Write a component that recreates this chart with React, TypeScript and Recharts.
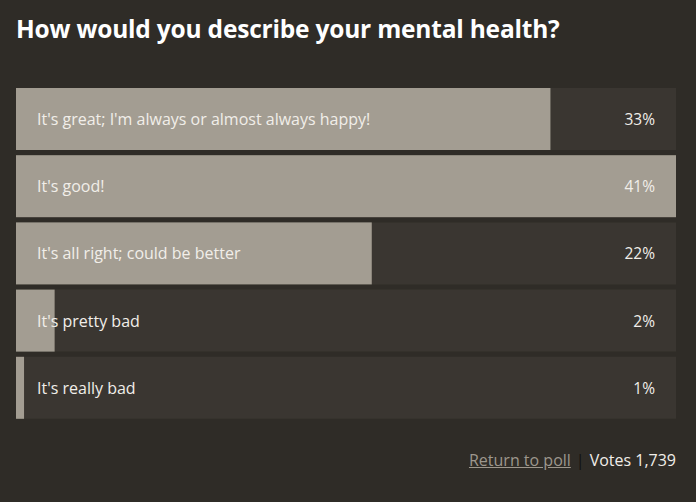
import React from "react";
import { BarChart, Bar, XAxis, YAxis } from "recharts";

const categories = [
  "It's great; I'm always or almost always happy!",
  "It's good!",
  "It's all right; could be better",
  "It's pretty bad",
  "It's really bad",
];
// bar lengths (percent of votes)
const shares = [33.2, 41, 22.1, 2.4, 0.5];
// printed percentage labels
const pctLabels = ["33%", "41%", "22%", "2%", "1%"];
const title = "How would you describe your mental health?";
const totalVotes = "1,739";

const data = categories.map((name, i) => ({
  name,
  share: shares[i],
  pct: pctLabels[i],
}));

const FONT = "'Open Sans', sans-serif";
const BG = "#2f2c27";
const TRACK = "#3a3631";
const FILL = "#a39d92";
const TEXT = "#f1eee9";

const BarShape = (props: any) => {
  const { x, y, width, height, background, payload } = props;
  const bx = background ? background.x : x;
  const bw = background ? background.width : width;
  const cy = y + height / 2;
  return (
    <g>
      <rect x={x} y={y} width={Math.max(0, width)} height={height} fill={FILL} />
      <text
        x={bx + 21}
        y={cy}
        dominantBaseline="central"
        fill={TEXT}
        fontSize={16}
        fontFamily={FONT}
      >
        {payload.name}
      </text>
      <text
        x={bx + bw - 21}
        y={cy}
        dominantBaseline="central"
        textAnchor="end"
        fill={TEXT}
        fontSize={15.5}
        fontFamily={FONT}
      >
        {payload.pct}
      </text>
    </g>
  );
};

export default function App() {
  return (
    <div
      style={{
        position: "fixed",
        left: 0,
        top: 0,
        width: 696,
        height: 502,
        background: BG,
        fontFamily: FONT,
        overflow: "hidden",
      }}
    >
      <div
        style={{
          position: "absolute",
          left: 16,
          top: 12,
          fontSize: 24.5,
          lineHeight: "34px",
          fontWeight: 700,
          color: "#ffffff",
          whiteSpace: "nowrap",
          letterSpacing: -0.2,
        }}
      >
        {title}
      </div>
      <div style={{ position: "absolute", left: 0, top: 0 }}>
        <BarChart
          width={696}
          height={502}
          data={data}
          layout="vertical"
          margin={{ top: 85, right: 20, bottom: 81, left: 16 }}
        >
          <XAxis type="number" domain={[0, 41]} hide />
          <YAxis type="category" dataKey="name" hide />
          <Bar
            dataKey="share"
            fill={FILL}
            barSize={62}
            background={{ fill: TRACK }}
            shape={BarShape}
            isAnimationActive={false}
          />
        </BarChart>
      </div>
      <div
        style={{
          position: "absolute",
          right: 20,
          top: 448,
          fontSize: 16,
          lineHeight: "24px",
          whiteSpace: "nowrap",
        }}
      >
        <span style={{ color: "#9d978d", textDecoration: "underline" }}>
          Return to poll
        </span>
        <span style={{ color: "#111111", margin: "0 5px" }}>|</span>
        <span style={{ color: TEXT }}>Votes {totalVotes}</span>
      </div>
    </div>
  );
}
